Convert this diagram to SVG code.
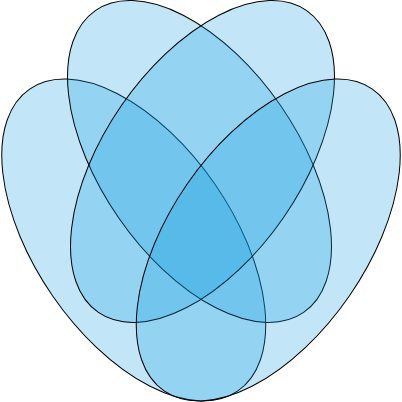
<svg xmlns="http://www.w3.org/2000/svg" width="402" height="402" viewBox="0 0 402 402">
<style>
.set{fill:#0b9bdf;fill-opacity:0.25;stroke:#000;stroke-width:1}
</style>
<rect width="402" height="402" fill="#fff"/>
<g id="set-a"><ellipse class="set" cx="133.75" cy="240" rx="183.4" ry="98.5" transform="rotate(55.4 133.75 240)"/></g>
<g id="set-b"><ellipse class="set" cx="199.5" cy="161.5" rx="183.4" ry="98.5" transform="rotate(55.4 199.5 161.5)"/></g>
<g id="set-c"><ellipse class="set" cx="202.5" cy="161.5" rx="183.4" ry="98.5" transform="rotate(-55.4 202.5 161.5)"/></g>
<g id="set-d"><ellipse class="set" cx="268.25" cy="240" rx="183.4" ry="98.5" transform="rotate(-55.4 268.25 240)"/></g>
</svg>
